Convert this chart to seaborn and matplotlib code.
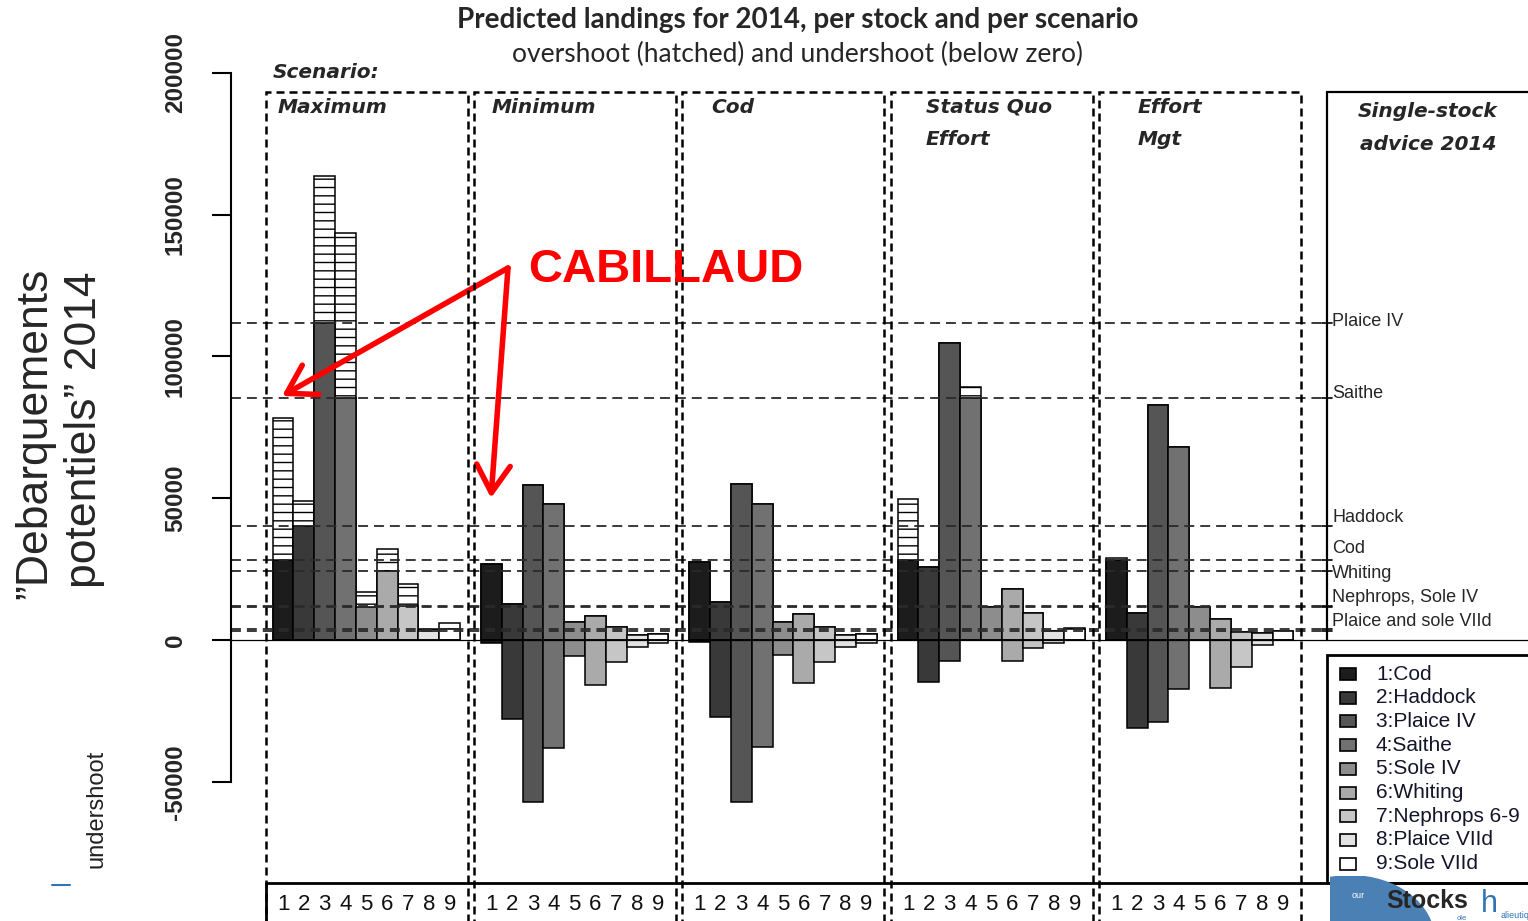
import numpy as np
import pandas as pd
import matplotlib.pyplot as plt
import seaborn as sns
from matplotlib.patches import Rectangle, Ellipse
from matplotlib.lines import Line2D

# stocks, scenarios and single-stock advice (tonnes)
stocks = ["Cod", "Haddock", "Plaice IV", "Saithe", "Sole IV", "Whiting",
          "Nephrops 6-9", "Plaice VIId", "Sole VIId"]
scenarios = ["Maximum", "Minimum", "Cod", "Status Quo\nEffort", "Effort\nMgt"]
advice = [28200, 40300, 111700, 85400, 11800, 24300, 11900, 3200, 3900]
advice_labels = ["Plaice IV", "Saithe", "Haddock", "Cod", "Whiting",
                 "Nephrops, Sole IV", "Plaice and sole VIId"]

# predicted landings per scenario (top of bars)
land_maximum = [78400, 49100, 163700, 143600, 17000, 32000, 19700, 3900, 5900]
land_minimum = [26800, 12700, 54500, 48000, 6200, 8500, 4700, 1600, 2100]
land_cod = [27600, 13400, 55000, 48100, 6200, 9000, 4700, 1600, 2100]
land_sq_effort = [49700, 25900, 104600, 89300, 11700, 17900, 9600, 3300, 4100]
land_effort_mgt = [29000, 9600, 82800, 68200, 11700, 7300, 2900, 2400, 3300]

# undershoot per scenario (drawn below zero)
under_maximum = [0, 0, 0, 0, 0, 0, 0, 0, 0]
under_minimum = [1200, 27700, 57100, 38100, 5500, 16000, 7800, 2400, 1200]
under_cod = [600, 27300, 57100, 37600, 5400, 15300, 7800, 2400, 1200]
under_sq_effort = [0, 14800, 7300, 0, 0, 7300, 2900, 1200, 0]
under_effort_mgt = [0, 31100, 29000, 17400, 0, 17000, 9400, 1800, 0]

grays = ["#1c1c1c", "#393939", "#555555", "#717171", "#8d8d8d",
         "#aaaaaa", "#c6c6c6", "#e2e2e2", "#ffffff"]
yticks = [-50000, 0, 50000, 100000, 150000, 200000]

landings = [land_maximum, land_minimum, land_cod, land_sq_effort, land_effort_mgt]
unders = [under_maximum, under_minimum, under_cod, under_sq_effort, under_effort_mgt]

rows = []
for g, scen in enumerate(scenarios):
    for s, stock in enumerate(stocks):
        L = landings[g][s]
        rows.append({"scenario": scen, "stock": stock, "pos": g * 10 + s + 0.5,
                     "landings": L, "solid": min(L, advice[s]),
                     "neg": -unders[g][s]})
df = pd.DataFrame(rows)

W, H = 1528, 921
sns.set_style("white")
plt.rcParams["font.family"] = ["Liberation Sans", "DejaVu Sans"]
plt.rcParams["hatch.linewidth"] = 1.0
plt.rcParams["hatch.color"] = "black"

fig = plt.figure(figsize=(W / 100, H / 100), dpi=100)
ax = fig.add_axes([231 / W, 0, 1 - 231 / W, 1])


def fx(x):
    return x / W


def fy(y):
    return 1 - y / H


def ftext(x, y, s, **kw):
    return fig.text(fx(x), fy(y), s, **kw)


pal = dict(zip(stocks, grays))
common = dict(native_scale=True, errorbar=None, width=1, edgecolor="black",
              linewidth=1.1, saturation=1, ax=ax)
# overshoot: hatched bar up to landings, solid part drawn over it
sns.barplot(data=df, x="pos", y="landings", color="white", hatch="--", **common)
sns.barplot(data=df, x="pos", y="solid", hue="stock", palette=pal,
            dodge=False, legend=False, **common)
sns.barplot(data=df, x="pos", y="neg", hue="stock", palette=pal,
            dodge=False, legend=False, **common)

# pixel mapping: 0 at y=640, 2.836 px per 1000 t; bar unit 20.83 px
v_top = 640 / 0.002836
v_bot = -(H - 640) / 0.002836
ax.set_ylim(v_bot, v_top)
ax.set_xlim(-2.0, 60.26)
ax.set_xlabel("")
ax.set_ylabel("")
ax.set_xticks([])
for sp in ["top", "right", "bottom"]:
    ax.spines[sp].set_visible(False)
ax.spines["left"].set_bounds(-50000, 200000)
ax.spines["left"].set_linewidth(1.5)
ax.spines["left"].set_color("black")
ax.set_yticks(yticks)
ax.set_yticklabels([str(t) for t in yticks], rotation=90, va="center",
                   fontsize=17.5, fontweight="bold")
ax.tick_params(axis="y", length=13.7, width=1.5, pad=18, color="black", left=True)

ax.axhline(0, color="black", lw=0.9, zorder=1)

u_right = (1327 - 272.7) / 20.83
v_boxtop = (640 - 92) / 0.002836
for a in advice:
    ax.plot([-2, u_right - 0.25], [a, a], ls=(0, (5.5, 3.3)), color="#2a2a2a",
            lw=1.3, zorder=1)
    ax.plot([u_right - 0.25, u_right + 0.25], [a, a], color="black", lw=1.2)
ax.plot([u_right, u_right], [0, v_boxtop], color="black", lw=1.6)
ax.plot([u_right, 61], [v_boxtop, v_boxtop], color="black", lw=1.6)

# dashed scenario boxes
for g in range(len(scenarios)):
    ax.add_patch(Rectangle((10 * g - 0.33, v_bot - 5000), 9.7, v_boxtop - v_bot + 5000,
                           fill=False, ls=(0, (3.2, 2.0)), lw=1.8, ec="black", zorder=4))

# bottom stock-number row
v_row = -(883 - 640) / 0.002836
ax.plot([-0.33, 61], [v_row, v_row], color="black", lw=2)
ax.plot([-0.33, -0.33], [v_bot, v_row], color="black", lw=2)
v_num = -(904 - 640) / 0.002836
for g in range(len(scenarios)):
    for s in range(len(stocks)):
        ax.text(g * 10 + s + 0.5, v_num, str(s + 1), ha="center", va="center",
                fontsize=16, color="#111111")

# titles
ftext(798, 20, "Predicted landings for 2014, per stock and per scenario",
      ha="center", va="center", fontsize=20, fontweight="bold", family="Lato")
ftext(798, 54, "overshoot (hatched) and undershoot (below zero)",
      ha="center", va="center", fontsize=19, family="Lato")

bi = dict(fontsize=14.5, fontweight="bold", style="italic", family="DejaVu Sans",
          va="center")
ftext(273, 72, "Scenario:", ha="left", **bi)
label_x = [278, 492, 711, 926, 1138]
for scen, lx in zip(scenarios, label_x):
    for i, line in enumerate(scen.split("\n")):
        ftext(lx, 107 + 32 * i, line, ha="left", **bi)
ftext(1428, 111, "Single-stock", ha="center", **bi)
ftext(1428, 145, "advice 2014", ha="center", **bi)

label_y = [322, 394, 517, 548, 573, 597, 621]
for lab, ly in zip(advice_labels, label_y):
    ftext(1332, ly, lab, ha="left", va="center", fontsize=13)

# y-axis titles
ftext(35, 433, "\u201dDebarquements", rotation=90, ha="center", va="center", fontsize=32)
ftext(85, 430, "potentiels\u201d 2014", rotation=90, ha="center", va="center", fontsize=32)
ftext(97, 809, "undershoot", rotation=90, ha="center", va="center", fontsize=17,
      color="#222222")

# legend box
fig.add_artist(Rectangle((fx(1327), fy(883)), fx(1540 - 1327), (883 - 655) / H,
                         transform=fig.transFigure, fill=False, ec="black", lw=2))
for i, (stock, col) in enumerate(zip(stocks, grays)):
    yc = 674 + 23.7 * i
    fig.add_artist(Rectangle((fx(1340), fy(yc + 6)), 16 / W, 12 / H,
                             transform=fig.transFigure, fc=col, ec="black", lw=1.2))
    ftext(1376, yc, f"{i + 1}:{stock}", ha="left", va="center", fontsize=15,
          color="#14142a")

# logo fragment and "Stocks"
clip = Rectangle((fx(1330), 0), fx(200), fy(876), transform=fig.transFigure,
                 visible=False)
fig.add_artist(clip)
logo = Ellipse((fx(1350), fy(940)), 170 / W, 130 / H,
               transform=fig.transFigure, fc="#4a80b4", ec="none")
fig.add_artist(logo)
logo.set_clip_path(clip)
ftext(1358, 895, "our", ha="center", va="center", fontsize=6.5, color="white")
ftext(1427, 901, "Stocks", ha="center", va="center", fontsize=18, fontweight="bold")
ftext(1462, 918, "ole", ha="center", va="center", fontsize=5.5, color="#2e75b6")
ftext(1481, 904, "h", ha="left", va="center", fontsize=22, color="#2e75b6")
ftext(1501, 915, "alieutiq", ha="left", va="center", fontsize=6.5, color="#2e75b6")
fig.add_artist(Line2D([fx(52), fx(70)], [fy(885), fy(885)], color="#2e75b6", lw=1.5))

# red annotation
ftext(666, 270, "CABILLAUD", ha="center", va="center", fontsize=34,
      fontweight="bold", color="red")
for tip in [(282, 396), (491, 498)]:
    ax.annotate("", xy=(fx(tip[0]), fy(tip[1])), xytext=(fx(508), fy(268)),
                xycoords="figure fraction", textcoords="figure fraction",
                arrowprops=dict(arrowstyle="->,head_length=0.9,head_width=0.55",
                                color="red", lw=4, mutation_scale=22,
                                shrinkA=0, shrinkB=0))

fig.savefig("out.png", dpi=100)
